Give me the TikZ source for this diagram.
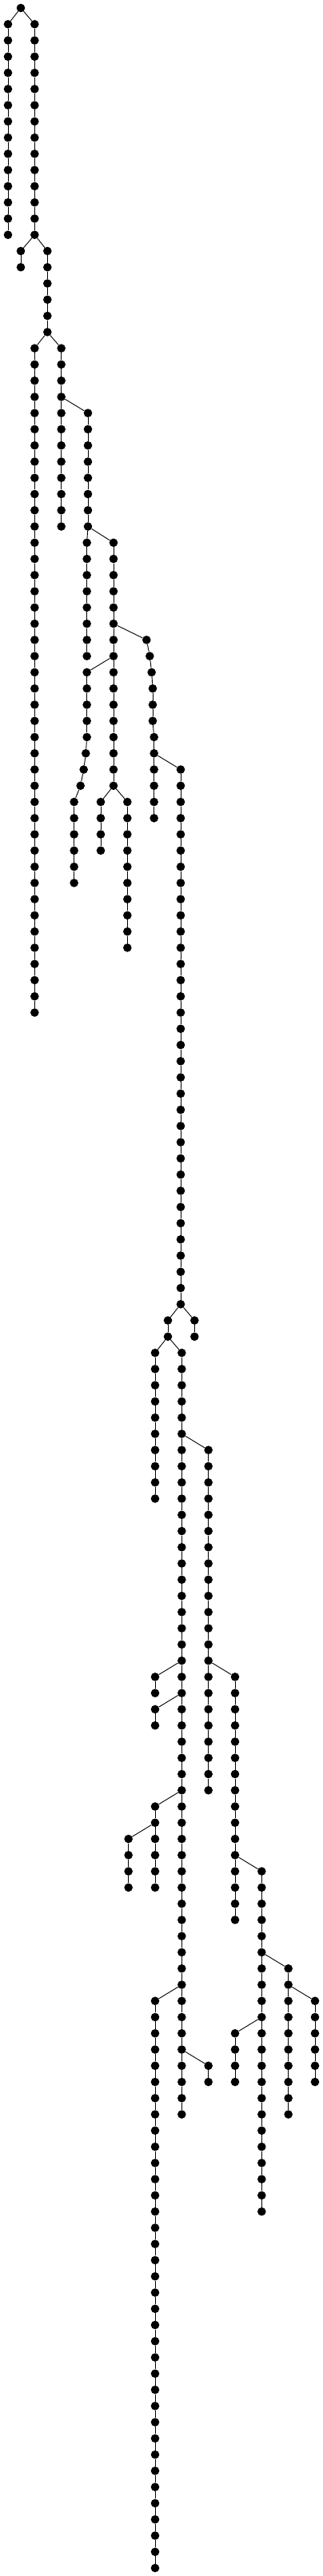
\documentclass[tikz,border=0pt]{standalone}
\tikzset{
  tdot/.style={circle,fill=black,draw=none,inner sep=0pt,minimum size=10.6pt},
  tedge/.style={line width=0.9pt,black}
}
% vertical chain: name, x, first level, last level
\newcommand\vch[4]{%
  \foreach \l in {#3,...,#4}{\node[tdot] (#1-\l) at (#2,\l) {};}%
  \foreach \l in {#3,...,#4}{\ifnum\l>#3 \pgfmathtruncatemacro\p{\l-1}\draw[tedge] (#1-\p) -- (#1-\l);\fi}%
}
% free chain: name, first level, list of level/x
\newcommand\fch[3]{%
  \foreach \l/\xx in {#3}{\node[tdot] (#1-\l) at (\xx,\l) {};}%
  \foreach \l/\xx in {#3}{\ifnum\l>#2 \pgfmathtruncatemacro\p{\l-1}\draw[tedge] (#1-\p) -- (#1-\l);\fi}%
}
\begin{document}
\begin{tikzpicture}[x=1pt,y=-20.266pt]
\useasboundingbox (0,-0.4934) rectangle (404,158.4934);
\node[tdot] (A-0) at (26,0) {};
\vch{B}{10}{1}{14}
\vch{C}{43.33}{1}{14}
\draw[tedge] (A-0) -- (B-1);
\draw[tedge] (A-0) -- (C-1);
\vch{D}{26}{15}{16}
\draw[tedge] (C-14) -- (D-15);
\vch{E}{59.33}{15}{20}
\draw[tedge] (C-14) -- (E-15);
\vch{F}{43.33}{21}{62}
\draw[tedge] (E-20) -- (F-21);
\vch{G}{76.67}{21}{32}
\draw[tedge] (E-20) -- (G-21);
\vch{H}{110}{25}{32}
\draw[tedge] (G-24) -- (H-25);
\vch{I}{108.67}{33}{40}
\draw[tedge] (H-32) -- (I-33);
\vch{J}{142}{33}{48}
\draw[tedge] (H-32) -- (J-33);
\fch{K}{41}{41/108.67,42/108.67,43/108.67,44/108.67,45/108.67,46/107.33,47/104.67,48/100.67,49/92.67,50/92.67,51/92.67,52/92.67,53/92.67,54/92.67}
\draw[tedge] (J-40) -- (K-41);
\vch{Lc}{126}{49}{52}
\draw[tedge] (J-48) -- (Lc-49);
\vch{M}{159.33}{49}{58}
\draw[tedge] (J-48) -- (M-49);
\fch{N}{39}{39/183.33,40/187.33,41/189.67,42/191,43/191,44/191,45/192.67,46/192.67,47/192.67,48/192.67,49/192.67,50/192.67}
\draw[tedge] (J-38) -- (N-39);
\vch{O}{226}{47}{80}
\draw[tedge] (N-46) -- (O-47);
\vch{P}{243.33}{81}{82}
\draw[tedge] (O-80) -- (P-81);
\vch{Q}{210}{81}{82}
\draw[tedge] (O-80) -- (Q-81);
\vch{R}{194}{83}{92}
\draw[tedge] (Q-82) -- (R-83);
\vch{S}{227.33}{83}{130}
\draw[tedge] (Q-82) -- (S-83);
\vch{T}{260.67}{89}{110}
\draw[tedge] (S-88) -- (T-89);
\vch{U}{194}{103}{104}
\draw[tedge] (S-102) -- (U-103);
\vch{V}{194}{105}{106}
\draw[tedge] (S-104) -- (V-105);
\vch{W}{294}{103}{118}
\draw[tedge] (T-102) -- (W-103);
\vch{X}{194}{111}{116}
\draw[tedge] (S-110) -- (X-111);
\vch{Y}{160.67}{113}{116}
\draw[tedge] (X-112) -- (Y-113);
\vch{Z}{327.33}{115}{136}
\draw[tedge] (W-114) -- (Z-115);
\vch{AA}{194}{123}{158}
\draw[tedge] (S-122) -- (AA-123);
\vch{AB}{260.67}{127}{128}
\draw[tedge] (S-126) -- (AB-127);
\vch{AC}{360.67}{121}{130}
\draw[tedge] (Z-120) -- (AC-121);
\vch{AD}{394}{123}{128}
\draw[tedge] (AC-122) -- (AD-123);
\vch{AE}{294}{125}{128}
\draw[tedge] (Z-124) -- (AE-125);
\end{tikzpicture}
\end{document}
